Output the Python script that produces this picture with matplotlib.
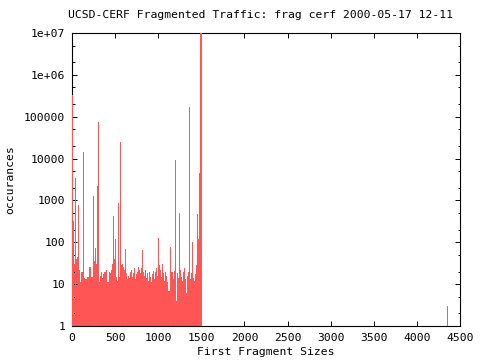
import matplotlib
matplotlib.use("Agg")
import matplotlib.pyplot as plt
import numpy as np

# background counts, one per histogram bin, starting at 23 bytes, 11.6 bytes apart
bin_start = 23
bin_step = 11.6
noise = [30, 30, 30, 40, 45, 30, 22, 11, 20, 20, 20, 14, 13, 13, 15, 15,
         26, 26, 15, 15, 30, 36, 36, 30, 20, 11, 11, 16, 19, 14, 17, 20,
         20, 22, 11, 11, 20, 18, 22, 30, 30, 40, 25, 15, 12, 20, 15, 20,
         28, 30, 25, 22, 20, 18, 13, 16, 14, 19, 22, 15, 18, 24, 13, 17,
         20, 26, 22, 18, 24, 65, 20, 16, 22, 14, 18, 12, 20, 15, 11, 17,
         21, 13, 19, 24, 16, 20, 28, 22, 15, 30, 18, 12, 20, 16, 11, 7,
         17, 20, 19, 13, 21, 20, 4, 18, 14, 20, 22, 15, 12, 19, 24, 13,
         6, 16, 20, 20, 13, 18, 20, 14, 12, 17, 28, 30, 40, 40, 50, 50]

# the tall ones
spike_sizes = [4, 23, 35, 46, 81, 128, 255, 278, 290, 302, 476, 487, 510, 545,
               568, 626, 1009, 1148, 1195, 1241, 1357, 1392, 1450, 1462, 1473,
               1488, 1500, 4358]
spike_counts = [330000, 320, 540, 3400, 780, 14300, 1260, 73, 2200, 75000, 425,
                135, 120, 880, 24900, 70, 128, 78, 9200, 510, 170000, 103, 474,
                120, 4600, 1e7, 1e7, 3]

ytick_vals = [1, 10, 100, 1000, 10000, 100000, 1e6, 1e7]
ytick_labels = ["1", "10", "100", "1000", "10000", "100000", "1e+06", "1e+07"]
xtick_vals = [0, 500, 1000, 1500, 2000, 2500, 3000, 3500, 4000, 4500]

red = "#ff5555"
font = "DejaVu Sans Mono"
fs = 8.2

fig = plt.figure(figsize=(4.8, 3.6), dpi=100)
ax = fig.add_axes([72 / 480, 34 / 360, 388 / 480, 293 / 360])

noise_sizes = bin_start + bin_step * np.arange(len(noise))
ax.bar(noise_sizes, noise, width=bin_step, color=red, linewidth=0, antialiased=False)
ax.bar(spike_sizes, spike_counts, width=bin_step, color=red, linewidth=0,
       antialiased=False, zorder=3)

ax.set_yscale("log")
ax.set_xlim(0, 4500)
ax.set_ylim(1, 1e7)

ax.set_xticks(xtick_vals)
ax.set_xticklabels([str(v) for v in xtick_vals], fontfamily=font, fontsize=fs)
ax.set_yticks(ytick_vals)
ax.set_yticklabels(ytick_labels, fontfamily=font, fontsize=fs)
minor = [m * 10.0 ** e for e in range(7) for m in (2, 5)]
ax.yaxis.set_minor_locator(matplotlib.ticker.FixedLocator(minor))
ax.yaxis.set_minor_formatter(matplotlib.ticker.NullFormatter())
ax.tick_params(which="major", direction="in", length=3.5, width=0.7,
               top=True, right=True, pad=5)
ax.tick_params(which="minor", direction="in", length=1.8, width=0.7,
               left=True, right=True)
ax.tick_params(axis="x", which="minor", bottom=False, top=False)
for s in ax.spines.values():
    s.set_linewidth(0.8)

fig.text(261 / 480, 1 - 15 / 360, "UCSD-CERF Fragmented Traffic: frag cerf 2000-05-17 12-11",
         ha="center", va="center", fontfamily=font, fontsize=fs)
fig.text(266 / 480, 1 - 352 / 360, "First Fragment Sizes",
         ha="center", va="center", fontfamily=font, fontsize=fs)
fig.text(10 / 480, 1 - 180 / 360, "occurances", rotation=90,
         ha="center", va="center", fontfamily=font, fontsize=fs)

fig.savefig("out.png", dpi=100)
